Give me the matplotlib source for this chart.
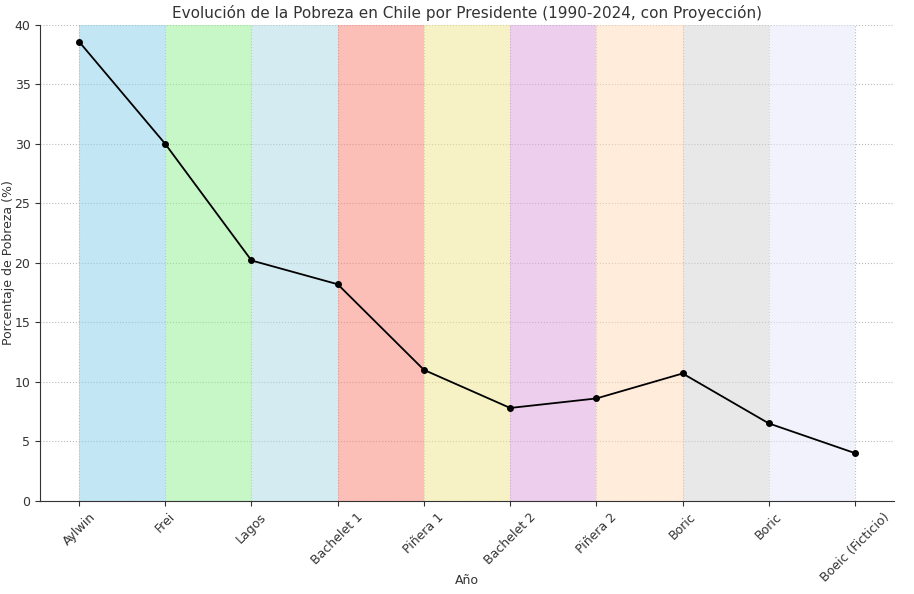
import matplotlib.pyplot as plt

presidentes = ["Aylwin", "Frei", "Lagos", "Bachelet 1", "Piñera 1", "Bachelet 2",
               "Piñera 2", "Boric", "Boric", "Boeic (Ficticio)"]
pobreza = [38.6, 30.0, 20.2, 18.2, 11.0, 7.8, 8.6, 10.7, 6.5, 4.0]
colores = ["skyblue", "lightgreen", "lightblue", "salmon", "khaki",
           "plum", "peachpuff", "lightgray", "lavender"]

fig, ax = plt.subplots(figsize=(9.14, 5.94), dpi=100)
fig.subplots_adjust(left=0.044, right=0.978, top=0.958, bottom=0.157)

x = list(range(len(presidentes)))
for i, c in enumerate(colores):
    ax.axvspan(x[i], x[i + 1], color=c, alpha=0.5, lw=0)

ax.plot(x, pobreza, marker="o", color="black", markersize=4, linewidth=1.3)

ax.set_xticks(x)
ax.set_xticklabels(presidentes, rotation=45, color="#333333", fontsize=9)
ax.set_ylim(0, 40)
ax.set_xlim(-0.45, 9.45)
ax.tick_params(colors="#333333", labelsize=9)
ax.grid(True, linestyle=":", color="#bbbbbb", linewidth=0.8)
ax.set_axisbelow(True)

for s in ["top", "right"]:
    ax.spines[s].set_visible(False)
for s in ["left", "bottom"]:
    ax.spines[s].set_color("#333333")

ax.set_title("Evolución de la Pobreza en Chile por Presidente (1990-2024, con Proyección)",
             fontsize=11, color="#333333", pad=5)
ax.set_xlabel("Año", color="#333333", fontsize=9, va="center")
ax.set_ylabel("Porcentaje de Pobreza (%)", color="#333333", fontsize=9, va="center")
ax.xaxis.set_label_coords(0.5, -0.168)
ax.yaxis.set_label_coords(-0.037, 0.5)

fig.savefig("out.png")
